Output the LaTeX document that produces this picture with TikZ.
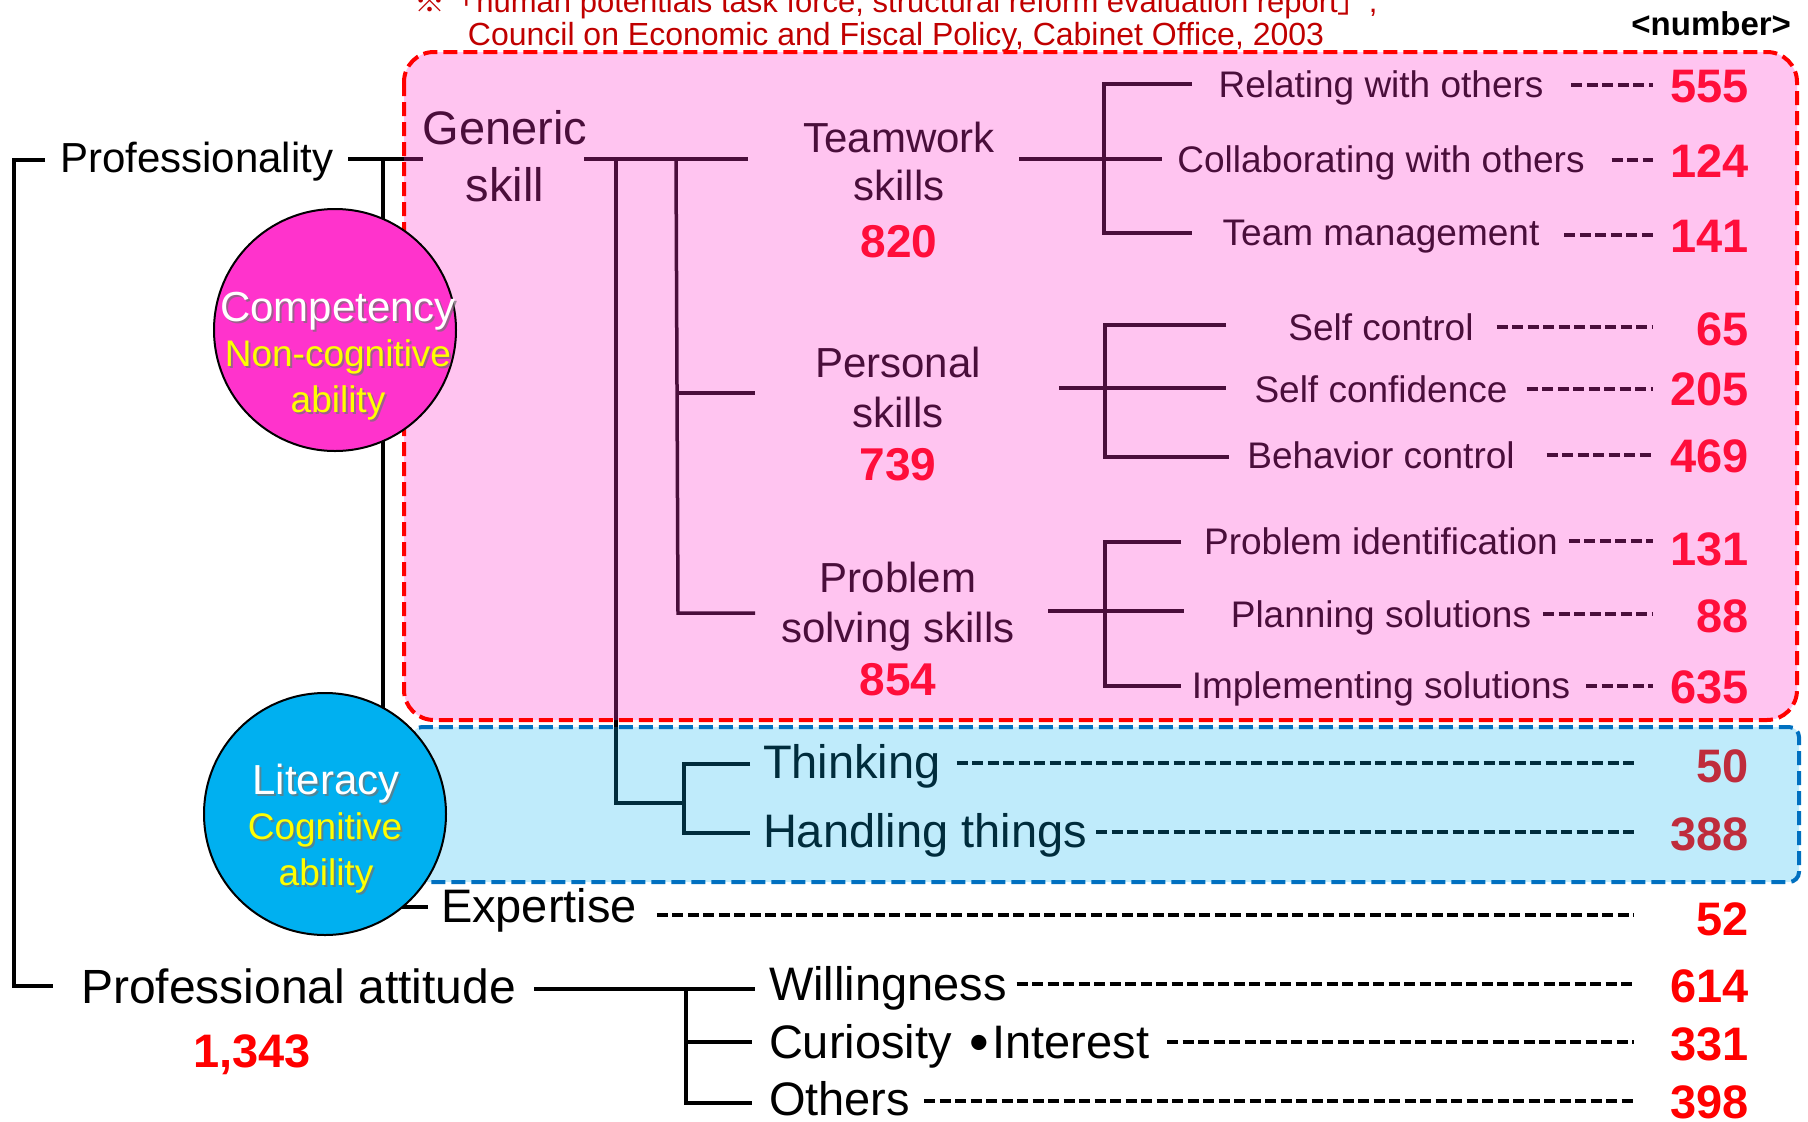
\documentclass[tikz,border=0pt]{standalone}
\usepackage{fontspec}
\setmainfont{Liberation Sans}
\newfontfamily\cjk{Noto Sans CJK JP}
\definecolor{noteRed}{HTML}{C00000}
\definecolor{boxRed}{HTML}{FF0000}
\definecolor{pinkOv}{HTML}{FF33CC}
\definecolor{blueOv}{HTML}{00B0F0}
\definecolor{boxBlue}{HTML}{0070C0}
\definecolor{circMag}{HTML}{FF33CC}
\definecolor{circBlue}{HTML}{00B0F0}
\definecolor{txtYel}{HTML}{FFFF00}
\newcommand{\myfs}[1]{\fontsize{#1}{#1}\selectfont}
\begin{document}
\begin{tikzpicture}[x=1pt,y=-1pt,
  every node/.style={inner sep=0pt,outer sep=0pt},
  tree/.style={line width=3.5pt},
  lead/.style={line width=3.2pt,dash pattern=on 11pt off 4.5pt},
  bigt/.style={font=\myfs{47},anchor=base west},
  midt/.style={font=\myfs{42},anchor=base},
  midn/.style={font=\myfs{46}\bfseries,anchor=base,text=red},
  subt/.style={font=\myfs{37},anchor=base},
  rnum/.style={font=\myfs{47}\bfseries,anchor=base east,text=red},
  circt/.style={font=\myfs{42},anchor=base},
  circs/.style={font=\myfs{37},anchor=base},
  shad/.style={text=black!55,text opacity=0.7},
]
\useasboundingbox (0,0) rectangle (1808,1122);

% ---------- notes ----------
\node[font=\myfs{31},text=noteRed,anchor=base] (note1) at (896,12) {{\cjk ※「}human potentials task force, structural reform evaluation report{\cjk 」},};
\node[font=\myfs{32},text=noteRed,anchor=base] (note2) at (896,45) {Council on Economic and Fiscal Policy, Cabinet Office, 2003};
\node[font=\myfs{33}\bfseries,anchor=base east] (numhdr) at (1791,35) {<number>};

% ---------- left labels ----------
\node[font=\myfs{42},anchor=base west] (prof) at (60,172) {Professionality};
\node[font=\myfs{48},anchor=base west] (patt) at (81,1003) {Professional attitude};
\node[font=\myfs{47}\bfseries,anchor=base,text=red] (n1343) at (252,1067) {1,343};

% ---------- generic skill ----------
\node[font=\myfs{47},anchor=base] (gen1) at (505,144) {Generic};
\node[font=\myfs{47},anchor=base] (gen2) at (505,201) {skill};

\node[midt] (tw1) at (899,152) {Teamwork};
\node[midt] (tw2) at (899,200) {skills};
\node[midn] (tw3) at (899,257) {820};
\node[midt] (ps1) at (898,377) {Personal};
\node[midt] (ps2) at (898,427) {skills};
\node[midn] (ps3) at (898,480) {739};
\node[midt] (pb1) at (898,592) {Problem};
\node[midt] (pb2) at (898,642) {solving skills};
\node[midn] (pb3) at (898,695) {854};

% sub items
\node[subt] (rel) at (1381,97) {Relating with others};
\node[subt] (col) at (1381,172) {Collaborating with others};
\node[subt] (tm)  at (1381,245) {Team management};
\node[subt] (sc)  at (1381,340) {Self control};
\node[subt] (sf)  at (1381,402) {Self confidence};
\node[subt] (bc)  at (1381,468) {Behavior control};
\node[subt] (pi)  at (1381,554) {Problem identification};
\node[subt] (pl)  at (1381,627) {Planning solutions};
\node[subt] (im)  at (1381,698) {Implementing solutions};

\node[rnum] (n555) at (1749,102) {555};
\node[rnum] (n124) at (1749,177) {124};
\node[rnum] (n141) at (1749,252) {141};
\node[rnum] (n65)  at (1749,345) {65};
\node[rnum] (n205) at (1749,405) {205};
\node[rnum] (n469) at (1749,472) {469};
\node[rnum] (n131) at (1749,565) {131};
\node[rnum] (n88)  at (1749,632) {88};
\node[rnum] (n635) at (1749,703) {635};

% blue area and below
\node[bigt] (think) at (763,778) {Thinking};
\node[bigt] (hand)  at (763,847) {Handling things};
\node[bigt] (expt)  at (441,922) {Expertise};
\node[bigt] (will)  at (769,1000) {Willingness};
\node[bigt] (cur)   at (769,1058) {Curiosity\hspace{5pt} \raisebox{-3pt}{\fontsize{56}{56}\selectfont •}\hspace{3pt}Interest};
\node[bigt] (oth)   at (769,1115) {Others};

\node[rnum] (n50)  at (1749,782) {50};
\node[rnum] (n388) at (1749,850) {388};
\node[rnum] (n52)  at (1749,935) {52};
\node[rnum] (n614) at (1749,1002) {614};
\node[rnum] (n331) at (1749,1060) {331};
\node[rnum] (n398) at (1749,1118) {398};

% ---------- leader ends ----------
\coordinate (endP) at (1653,0);
\coordinate (endB) at (1634,0);

\foreach \nd/\gx/\gy in {rel/28/12, col/27/12, tm/25/10, sc/23/13, sf/19/13, bc/32/13, pi/11/13, pl/12/13, im/16/12}{
  \draw[lead] ([xshift=\gx pt,yshift=\gy pt]\nd.base east) -- ([yshift=\gy pt]\nd.base east -| endP);
}
\foreach \nd/\gx/\gy in {think/16/15, hand/9/15, expt/20/7, will/10/16, cur/18/16, oth/14/14}{
  \draw[lead] ([xshift=\gx pt,yshift=\gy pt]\nd.base east) -- ([yshift=\gy pt]\nd.base east -| endB);
}

% ---------- tree lines ----------
\coordinate (bT) at (14,160); \coordinate (bB) at (14,986);
\coordinate (bTe) at (45,160); \coordinate (bBe) at (53,986);
\draw[tree] (bTe) -- (bT) -- (bB) -- (bBe);

\coordinate (pA) at (348,159); \coordinate (pB) at (423,159);
\coordinate (pV) at (383,159); \coordinate (pE) at (383,907); \coordinate (pX) at (428,907);
\draw[tree] (pA) -- (pB);
\draw[tree] (pV) -- (pE) -- (pX);

\coordinate (gA) at (584,159); \coordinate (gB) at (748,159);
\draw[tree] (gA) -- (gB);
\coordinate (g1) at (616,159); \coordinate (g1b) at (616,803); \coordinate (g1c) at (684,803);
\draw[tree] (g1) -- (g1b) -- (g1c);
\coordinate (tkA) at (750,764); \coordinate (tkB) at (684,764); \coordinate (tkC) at (684,833); \coordinate (tkD) at (750,833);
\draw[tree] (tkA) -- (tkB) -- (tkC) -- (tkD);
\coordinate (g2) at (676,159); \coordinate (g2b) at (678,613); \coordinate (g2c) at (755,613);
\coordinate (g2m) at (677,393); \coordinate (g2n) at (755,393);
\draw[tree] (g2) -- (g2b) -- (g2c);
\draw[tree] (g2m) -- (g2n);

\coordinate (twA) at (1019,159); \coordinate (twB) at (1162,159);
\coordinate (twT) at (1192,84); \coordinate (twTv) at (1104,84); \coordinate (twBv) at (1104,233); \coordinate (twBe) at (1192,233);
\draw[tree] (twA) -- (twB);
\draw[tree] (twT) -- (twTv) -- (twBv) -- (twBe);

\coordinate (psA) at (1059,388); \coordinate (psB) at (1226,388);
\coordinate (psT) at (1226,325); \coordinate (psTv) at (1105,325); \coordinate (psBv) at (1105,457); \coordinate (psBe) at (1229,457);
\draw[tree] (psA) -- (psB);
\draw[tree] (psT) -- (psTv) -- (psBv) -- (psBe);

\coordinate (pbA) at (1048,611); \coordinate (pbB) at (1184,611);
\coordinate (pbT) at (1181,542); \coordinate (pbTv) at (1105,542); \coordinate (pbBv) at (1105,686); \coordinate (pbBe) at (1181,686);
\draw[tree] (pbA) -- (pbB);
\draw[tree] (pbT) -- (pbTv) -- (pbBv) -- (pbBe);

\coordinate (paA) at (534,989); \coordinate (paB) at (755,989);
\coordinate (paV) at (686,989); \coordinate (paE) at (686,1103); \coordinate (paX) at (752,1103);
\coordinate (paM) at (686,1042); \coordinate (paMe) at (752,1042);
\draw[tree] (paA) -- (paB);
\draw[tree] (paV) -- (paE) -- (paX);
\draw[tree] (paM) -- (paMe);

% ---------- translucent boxes ----------
\fill[pinkOv,fill opacity=0.29,rounded corners=30pt] (404,52) rectangle (1797,720);
\draw[boxRed,line width=4pt,dash pattern=on 14pt off 6pt,rounded corners=30pt] (404,52) rectangle (1797,720);
\fill[blueOv,fill opacity=0.25,rounded corners=10pt] (412,727) rectangle (1799,882);
\draw[boxBlue,line width=4pt,dash pattern=on 14pt off 6pt,rounded corners=10pt] (412,727) rectangle (1799,882);

% ---------- circles ----------
\node[circle,draw=black,line width=2pt,fill=circMag,minimum size=242pt] (cmp) at (335,330) {};
\node[circle,draw=black,line width=2pt,fill=circBlue,minimum size=242pt] (lit) at (325,814) {};

\node[circt,shad] (c1s) at (340,323) {Competency};
\node[circt,text=white] (c1) at (338,321) {Competency};
\node[circs,shad] (c2s) at (340,368) {Non-cognitive};
\node[circs,text=txtYel] (c2) at (338,366) {Non-cognitive};
\node[circs,shad] (c3s) at (340,414) {ability};
\node[circs,text=txtYel] (c3) at (338,412) {ability};

\node[circt,shad] (l1s) at (328,796) {Literacy};
\node[circt,text=white] (l1) at (326,794) {Literacy};
\node[circs,shad] (l2s) at (327,841) {Cognitive};
\node[circs,text=txtYel] (l2) at (325,839) {Cognitive};
\node[circs,shad] (l3s) at (328,887) {ability};
\node[circs,text=txtYel] (l3) at (326,885) {ability};
\end{tikzpicture}
\end{document}
